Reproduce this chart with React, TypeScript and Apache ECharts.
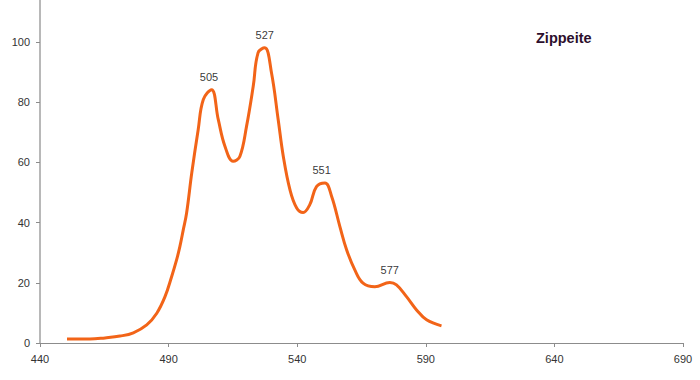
import React, { useEffect, useRef } from "react";
import * as echarts from "echarts";

const wavelengths = [
  450.5, 459.4, 465.3, 471.1, 476.3, 481.5, 485.4, 488.6, 491.2, 493.1, 494.4, 495.7,
  497.0, 499.0, 501.5, 503.5, 506.7, 509.3, 511.9, 515.1, 517.7, 520.3, 522.9, 524.8,
  527.4, 530.0, 532.6, 534.6, 537.2, 539.8, 542.3, 544.9, 547.5, 550.8, 553.4, 556.6,
  559.2, 562.4, 565.6, 570.2, 576.0, 578.6, 582.5, 586.4, 590.3, 596.1,
];
const intensities = [
  1.3, 1.3, 1.7, 2.3, 3.4, 6.0, 9.9, 15.4, 22.1, 27.6, 32.1, 37.6,
  43.2, 56.5, 70.9, 80.9, 84.2, 74.3, 65.4, 60.4, 62.0, 72.0, 85.3, 96.5,
  98.1, 89.8, 74.3, 62.0, 50.9, 44.9, 43.4, 46.0, 52.0, 53.2, 48.7, 38.7,
  31.0, 24.3, 19.9, 18.7, 20.1, 19.3, 15.4, 11.0, 7.7, 5.7,
];

const peakNames = ["505", "527", "551", "577"];
const peakX = [505.7, 527.4, 549.5, 576.0];
const peakY = [84.2, 98.1, 53.2, 19.9];

const xTicks = { min: 440, max: 690, interval: 50 };
const yTicks = { min: 0, max: 114, interval: 20 };
const title = "Zippeite";

export default function App() {
  const ref = useRef<HTMLDivElement>(null);
  useEffect(() => {
    if (!ref.current) return;
    const chart = echarts.init(ref.current, undefined, { renderer: "svg" });
    const font = "Liberation Sans, Arial, sans-serif";
    chart.setOption({
      animation: false,
      backgroundColor: "#ffffff",
      grid: { left: 40, right: 17, top: 0, bottom: 37, containLabel: false },
      xAxis: {
        type: "value",
        min: xTicks.min,
        max: xTicks.max,
        interval: xTicks.interval,
        splitLine: { show: false },
        axisLine: { show: true, onZero: false, lineStyle: { color: "#8c8c8c", width: 1 } },
        axisTick: { show: true, length: 4, lineStyle: { color: "#8c8c8c" } },
        axisLabel: { color: "#333", fontFamily: font, fontSize: 11, margin: 10 },
      },
      yAxis: {
        type: "value",
        min: yTicks.min,
        max: yTicks.max,
        interval: yTicks.interval,
        splitLine: { show: false },
        axisLine: { show: true, lineStyle: { color: "#b8b8b8", width: 2 } },
        axisTick: { show: true, length: 4, lineStyle: { color: "#8c8c8c" } },
        axisLabel: { color: "#333", fontFamily: font, fontSize: 11, margin: 10, showMaxLabel: false },
      },
      series: [
        {
          type: "line",
          data: wavelengths.map((x, i) => [x, intensities[i]]),
          smooth: 0.4,
          showSymbol: false,
          symbol: "none",
          lineStyle: { color: "#f26418", width: 3 },
          z: 2,
        },
        {
          type: "scatter",
          data: peakX.map((x, i) => ({ value: [x, peakY[i]], name: peakNames[i] })),
          symbolSize: 0,
          itemStyle: { color: "transparent" },
          label: {
            show: true,
            position: "top",
            distance: 7.5,
            formatter: (p: any) => p.name,
            color: "#000",
            fontFamily: font,
            fontSize: 11,
          },
          z: 3,
        },
      ],
      graphic: [
        {
          type: "text",
          left: 536,
          top: 30,
          style: {
            text: title,
            fill: "#2d0f2d",
            font: `bold 14.5px ${font}`,
          },
        },
      ],
    });
    return () => chart.dispose();
  }, []);
  return (
    <div
      ref={ref}
      style={{ position: "absolute", left: 0, top: 0, width: 700, height: 380 }}
    />
  );
}
